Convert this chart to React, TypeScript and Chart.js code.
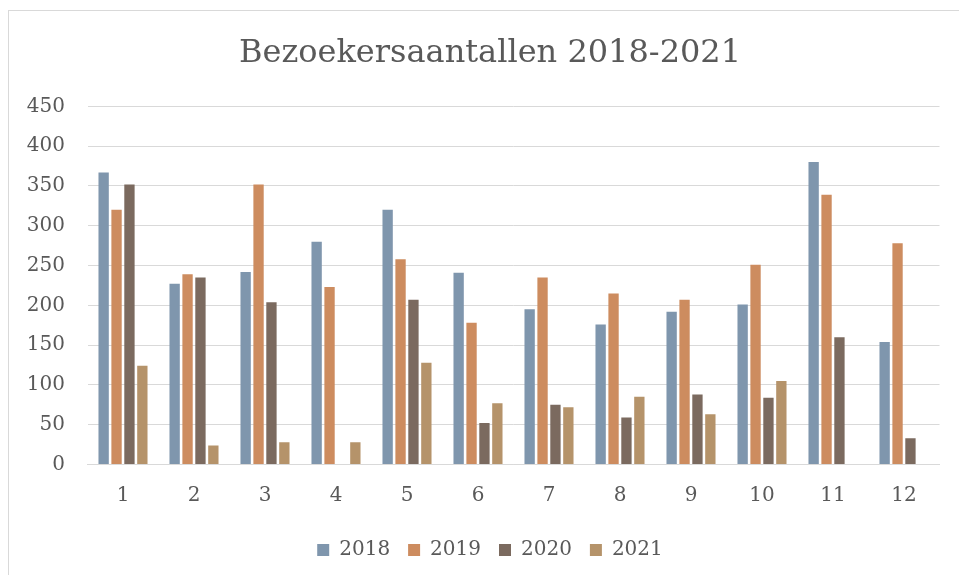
import React, { useEffect, useRef } from "react";
import { Chart, registerables } from "chart.js";

Chart.register(...registerables);

const categories = ["1", "2", "3", "4", "5", "6", "7", "8", "9", "10", "11", "12"];
const series2018 = [367, 227, 242, 280, 320, 241, 195, 176, 192, 201, 380, 154];
const series2019 = [320, 239, 352, 223, 258, 178, 235, 215, 207, 251, 339, 278];
const series2020 = [352, 235, 204, null, 207, 52, 75, 59, 88, 84, 160, 33];
const series2021 = [124, 24, 28, 28, 128, 77, 72, 85, 63, 105, null, null];
const seriesLabels = ["2018", "2019", "2020", "2021"];
const seriesColors = ["#7F96AD", "#CD8C5F", "#7B6A5F", "#B5936A"];
const chartTitle = "Bezoekersaantallen 2018-2021";
const yMin = 0;
const yMax = 450;
const yStep = 50;

const FONT = "'DejaVu Serif', serif";
const TEXT = "#595959";

export default function App() {
  const ref = useRef<HTMLCanvasElement | null>(null);

  useEffect(() => {
    if (!ref.current) return;
    const data = [series2018, series2019, series2020, series2021];
    const chart = new Chart(ref.current, {
      type: "bar",
      data: {
        labels: categories,
        datasets: data.map((d, i) => ({
          label: seriesLabels[i],
          data: d,
          backgroundColor: seriesColors[i],
          borderWidth: 0,
          categoryPercentage: 0.727,
          barPercentage: 0.8,
        })),
      },
      options: {
        responsive: false,
        animation: false,
        devicePixelRatio: 1,
        layout: { padding: { left: 40.5, right: 19.5, top: 0, bottom: 5 } },
        plugins: {
          title: {
            display: true,
            text: chartTitle,
            color: TEXT,
            font: { family: FONT, size: 32, weight: "normal" },
            padding: { top: 34, bottom: 34 },
          },
          legend: {
            position: "bottom",
            labels: {
              color: TEXT,
              font: { family: FONT, size: 20 },
              boxWidth: 12,
              boxHeight: 12,
              padding: 18,
            },
          },
          tooltip: { enabled: false },
        },
        scales: {
          x: {
            grid: { display: false, drawTicks: false },
            border: { display: true, color: "#D9D9D9" },
            ticks: { color: TEXT, font: { family: FONT, size: 20 }, padding: 19.5, maxRotation: 0 },
            afterFit: (s: any) => {
              s.height = 57.5;
            },
          },
          y: {
            min: yMin,
            max: yMax,
            grid: { color: "#D9D9D9", lineWidth: 1, drawTicks: false },
            border: { display: false },
            ticks: { stepSize: yStep, color: TEXT, font: { family: FONT, size: 20 }, padding: 22.5 },
            afterFit: (s: any) => {
              s.width = 47;
              s._computeLabelArea = () => undefined;
            },
          },
        },
      },
    });
    return () => chart.destroy();
  }, []);

  return (
    <div style={{ position: "fixed", inset: 0, overflow: "hidden", background: "#fff" }}>
      <div
        style={{
          position: "absolute",
          left: 8,
          top: 10,
          width: 2000,
          height: 2000,
          borderLeft: "1px solid #D9D9D9",
          borderTop: "1px solid #D9D9D9",
        }}
      />
      <canvas
        ref={ref}
        width={959}
        height={575}
        style={{ position: "absolute", left: 0, top: 0, width: 959, height: 575 }}
      />
    </div>
  );
}
